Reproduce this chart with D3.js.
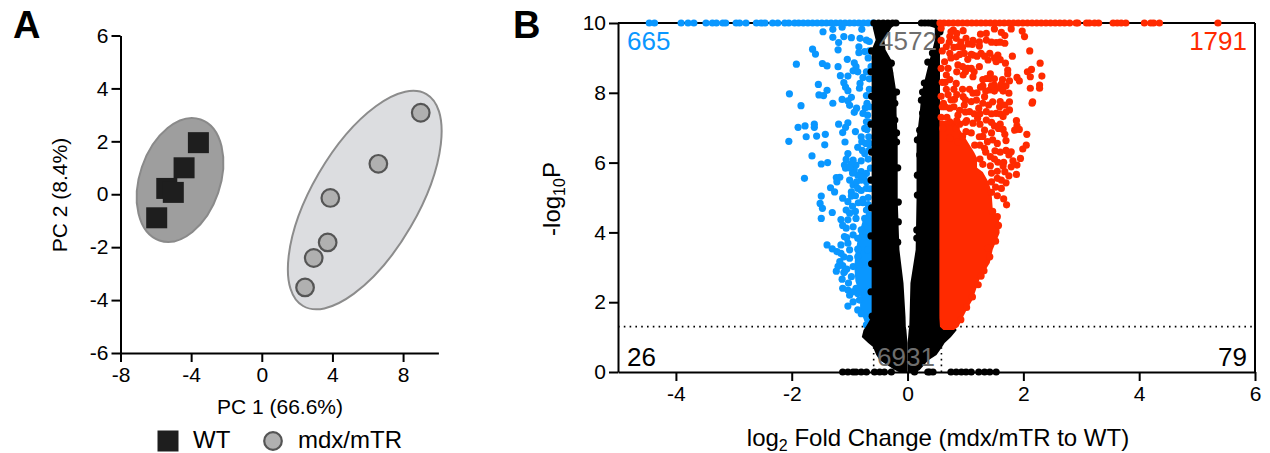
<!doctype html>
<html lang="en">
<head>
<meta charset="utf-8">
<title>PCA and volcano plot</title>
<script src="https://d3js.org/d3.v7.min.js"></script>
<style>
  html, body { margin: 0; padding: 0; background: #fff; }
  text { font-family: "Liberation Sans", Arial, sans-serif; fill: #000; }
  .axis path, .axis line { stroke: #000; stroke-width: 2; }
  .axis text { font-size: 21px; font-family: "Liberation Sans", Arial, sans-serif; fill: #000; }
</style>
</head>
<body>
<div id="chart"></div>
<script>
// panel A, PCA scores
var wtPoints = [[-3.59,1.95],[-4.40,1.00],[-5.38,0.22],[-5.01,0.07],[-5.95,-0.89]];
var mdxPoints = [[9.00,3.08],[6.60,1.15],[3.88,-0.14],[3.73,-1.82],[2.94,-2.41],[2.45,-3.52]];
// cx, cy, rx, ry in PC 1 units
var wtEllipse = [-4.63,0.54,3.62,2.28];
var mdxEllipse = [5.83,-0.22,6.94,3.01];
var pcaXTicks = [-8,-4,0,4,8];
var pcaYTicks = [-6,-4,-2,0,2,4,6];

// panel B, volcano
var volcanoXTicks = [-4,-2,0,2,4,6];
var volcanoYTicks = [0,2,4,6,8,10];
var cutoffP = 1.3;
var cutoffFC = 0.585;
var counts = {topLeft: "665", topMid: "4572", topRight: "1791", botLeft: "26", botMid: "6931", botRight: "79"};

// points capped at -log10P = 10
var blueCapped = [-4.46,-4.37,-3.91,-3.79,-3.69,-3.48,-3.37,-3.30,-3.19,-3.14,-2.96,-2.90,-2.79,-2.61,-2.53,-2.46,-2.33,-2.24,-2.12,-2.05,-1.95,-1.88,-1.8,-1.72,-1.64,-1.56,-1.48,-1.4,-1.32,-1.24,-1.16,-1.08,-1,-0.92,-0.84,-0.76,-0.68,-0.6];
var redCapped = [5.36,4.35,4.25,4.20,4.09,3.77,3.69,3.62,3.55,3.30,3.23,3.14,3.09,2.94,2.91,2.80,2.71,2.63,2.55,2.47,2.39,2.31,2.23,2.15,2.07,1.99,1.91,1.83,1.75,1.67,1.59,1.51,1.43,1.35,1.27,1.19,1.11,1.03,0.95,0.87,0.79,0.71,0.63,0.56];
var blackCapped = [-0.58,-0.5,-0.42,-0.34,-0.26,-0.2,0.24,0.3,0.36,0.42,0.48];
// points on the P = 1 line
var blackZero = [-1.12,-1.03,-0.94,-0.89,-0.80,-0.71,-0.57,-0.48,-0.40,-0.28,0.12,0.35,0.38,0.44,0.75,0.84,0.93,1.01,1.10,1.23,1.33,1.42,1.53];

var bluePoints = [[-1.46,9.75],[-1.29,9.82],[-1.13,9.88],[-1.29,9.59],[-1.10,9.61],[-0.97,9.58],[-1.19,9.44],[-0.79,9.82],[-0.82,9.56],[-0.71,9.51],[-0.66,9.47],[-0.84,9.32],[-1.64,9.25],[-1.59,9.11],[-1.20,9.23],[-0.84,9.15],[-0.74,9.18],[-1.04,8.96],[-1.92,8.82],[-1.47,8.84],[-1.39,8.77],[-1.20,8.75],[-0.92,8.86],[-0.89,8.75],[-0.94,8.63],[-0.86,8.60],[-1.03,8.48],[-1.16,8.49],[-0.71,8.60],[-0.77,8.44],[-0.63,8.75],[-1.10,8.29],[-1.07,8.16],[-1.03,8.06],[-0.82,8.27],[-0.83,8.13],[-1.54,8.24],[-1.39,8.07],[-1.53,7.94],[-1.45,7.92],[-2.04,7.97],[-0.71,7.92],[-1.13,7.81],[-0.97,7.87],[-1.03,7.77],[-1.29,7.70],[-1.00,7.64],[-1.84,7.63],[-0.88,7.56],[-0.92,7.44],[-0.73,7.57],[-0.77,7.41],[-0.69,7.36],[-0.71,7.17],[-1.19,7.10],[-1.03,7.14],[-1.07,7.01],[-1.77,7.05],[-1.89,7.01],[-1.61,7.10],[-1.61,7.01],[-1.12,6.86],[-0.90,6.89],[-0.74,6.98],[-1.42,6.81],[-1.75,6.74],[-1.57,6.76],[-0.80,6.74],[-0.67,6.74],[-2.05,6.61],[-1.08,6.59],[-0.79,6.60],[-1.43,6.51],[-0.86,6.44],[-0.66,6.55],[-1.65,6.19],[-0.74,6.26],[-1.03,6.26],[-0.66,6.36],[-1.06,6.09],[-1.49,5.96],[-1.38,6.00],[-1.09,5.93],[-1.07,5.84],[-0.94,6.07],[-0.89,5.93],[-0.92,5.79],[-0.80,5.74],[-0.71,5.69],[-0.64,5.84],[-0.86,5.64],[-1.78,5.55],[-1.23,5.57],[-1.17,5.58],[-1.22,5.45],[-1.00,5.50],[-0.80,5.50],[-0.71,5.45],[-0.63,5.50],[-0.94,5.36],[-1.33,5.28],[-1.26,5.16],[-0.97,5.16],[-0.86,5.26],[-0.71,5.26],[-1.49,5.04],[-1.12,4.98],[-0.97,5.04],[-0.77,4.95],[-1.51,4.83],[-1.47,4.69],[-1.49,4.40],[-1.30,4.57],[-1.06,4.64],[-1.03,4.88],[-0.77,4.85],[-0.71,4.64],[-1.15,4.37],[-1.03,4.36],[-0.89,4.40],[-0.74,4.40],[-0.66,4.31],[-1.06,4.12],[-0.94,4.16],[-0.80,4.07],[-0.94,3.93],[-0.71,3.97],[-1.09,3.88],[-0.86,3.83],[-1.39,3.64],[-1.30,3.53],[-1.15,3.64],[-1.03,3.69],[-1.15,3.40],[-1.00,3.50],[-0.86,3.52],[-0.69,3.50],[-1.00,3.26],[-0.86,3.30],[-1.17,3.16],[-1.23,2.89],[-1.20,3.03],[-1.09,2.87],[-0.94,3.02],[-0.83,3.07],[-1.13,2.66],[-0.97,2.73],[-1.12,2.40],[-1.03,2.35],[-0.89,2.40],[-0.86,2.25],[-1.03,1.89],[-0.94,2.01],[-0.83,2.06],[-0.86,1.78],[-0.80,1.67],[-0.69,1.54],[-0.71,1.35],
[-0.66,9.2],[-0.68,9.0],[-0.66,8.4],[-0.66,8.1],[-0.7,7.7],[-0.66,7.6],[-0.66,7.15],[-0.7,6.95],[-0.72,6.55],[-0.78,6.35],[-0.68,6.1],[-0.8,6.05],[-0.98,5.95],[-0.95,5.7],[-1.0,5.85],[-0.75,5.6],[-0.88,5.45],[-0.65,5.25],[-0.8,5.2],[-0.9,5.05],[-0.68,5.0],[-0.85,4.85],[-0.95,4.75],[-0.68,4.8],[-0.9,4.6],[-1.0,4.55],[-1.12,4.2],[-1.05,3.85],[-1.22,3.45],[-1.1,3.3],[-1.12,3.05],[-1.05,2.95],[-1.02,2.55],[-1.1,2.85],[-1.0,2.2],[-0.95,2.3]];

var redPoints = [[0.79,9.80],[0.96,9.78],[1.50,9.83],[1.79,9.83],[1.98,9.77],[2.02,9.61],[1.26,9.68],[1.36,9.70],[1.62,9.73],[1.68,9.64],[0.73,9.61],[0.84,9.56],[1.01,9.56],[1.12,9.39],[1.24,9.46],[1.36,9.51],[1.53,9.44],[1.68,9.42],[1.24,9.34],[0.67,9.32],[0.87,9.32],[2.11,9.20],[0.98,9.13],[1.13,9.08],[1.27,9.13],[1.42,9.13],[1.56,9.08],[0.73,9.13],[1.81,9.05],[0.84,9.03],[1.04,8.96],[1.39,8.94],[1.53,8.89],[1.69,8.85],[2.29,8.85],[0.64,8.89],[0.87,8.80],[1.24,8.75],[1.04,8.70],[1.73,8.65],[2.14,8.67],[2.07,8.60],[0.67,8.51],[0.96,8.51],[1.13,8.46],[1.43,8.54],[1.73,8.54],[2.32,8.48],[2.12,8.46],[1.89,8.44],[1.93,8.34],[1.36,8.41],[1.30,8.38],[1.64,8.38],[1.76,8.34],[0.73,8.38],[0.84,8.27],[1.50,8.22],[1.26,8.16],[1.07,8.10],[1.42,8.08],[1.59,8.13],[2.12,8.13],[2.28,8.22],[2.28,8.13],[0.67,8.10],[1.13,7.99],[1.75,7.99],[1.33,7.89],[0.96,7.89],[0.81,7.81],[1.19,7.79],[1.47,7.74],[1.76,7.74],[2.16,7.74],[2.15,7.70],[0.98,7.65],[1.59,7.60],[0.73,7.56],[1.23,7.56],[1.76,7.51],[1.07,7.46],[1.36,7.46],[1.53,7.41],[0.87,7.36],[1.65,7.32],[1.21,7.27],[1.36,7.22],[1.88,7.20],[0.73,7.17],[1.13,7.13],[1.89,7.05],[1.50,7.05],[1.85,6.93],[1.93,6.95],[0.61,6.98],[0.84,6.98],[1.01,6.89],[1.33,6.93],[1.57,6.98],[2.06,6.81],[1.68,6.81],[1.24,6.74],[0.73,6.70],[1.47,6.65],[1.70,6.63],[0.87,6.60],[1.16,6.50],[2.05,6.50],[1.33,6.41],[1.99,6.39],[1.51,6.34],[1.79,6.31],[1.75,6.22],[1.95,6.12],[1.43,6.17],[1.56,6.01],[1.66,6.01],[1.82,6.05],[1.89,5.93],[1.79,5.88],[1.43,5.91],[1.68,5.74],[1.88,5.66],[1.75,5.62],[1.45,5.45],[1.70,5.42],[1.62,5.26],[1.66,4.96],[1.71,4.79],[0.58,9.85],[0.58,9.5],[0.6,9.2],[0.58,8.7],[0.6,8.3],[0.58,7.9],[0.6,7.6],[0.58,7.3],[0.75,7.8],[0.62,7.7],[0.9,7.1],[1.02,7.2],
[0.75,9.75],[0.85,9.7],[0.72,9.45],[0.92,9.45],[0.8,9.3],[0.95,9.3],[1.05,9.4],[1.13,9.5],[1.45,9.45],[1.6,9.45],[0.75,9.0],[0.9,9.1],[1.1,9.1],[1.2,9.05],[1.33,9.05],[1.5,9.0],[1.6,8.95],[0.95,8.75],[1.1,8.7],[0.85,8.6],[1.0,8.6],[1.15,8.6],[0.7,8.7],[1.42,8.4],[1.5,8.4],[1.62,8.25],[1.7,8.2],[1.45,8.2],[1.3,8.2],[1.2,8.0],[1.35,8.05],[1.5,8.05],[1.65,8.05],[0.65,8.3],[0.8,8.1],[0.95,8.1],[0.7,7.95],[0.85,7.95],[1.0,7.8],[1.1,7.75],[1.3,7.7],[1.4,7.65],[1.6,7.75],[1.68,7.65],[0.65,7.6],[0.8,7.6],[0.9,7.5],[1.0,7.45],[1.15,7.4],[1.25,7.4],[1.45,7.4],[1.6,7.4],[1.7,7.45],[0.68,7.3],[0.85,7.2],[1.0,7.15],[1.25,7.1],[1.45,7.15],[1.6,7.1],[1.65,6.95],[1.45,6.85],[1.3,6.75],[1.1,6.85],[0.95,6.75],[1.38,6.6],[1.55,6.55],[1.25,6.5],[1.6,6.3],[1.7,6.35],[1.35,6.3],[1.25,6.1],[1.5,6.1],[1.65,5.9],[1.55,5.75],[1.45,5.7],[1.3,5.95],[1.55,5.55],[1.62,5.5],[1.52,5.3],[1.45,5.15],[1.55,5.05],
[1.57,4.2],[1.52,3.75],[1.42,3.3],[1.32,2.9],[1.22,2.5],[1.12,2.15],[1.02,1.85],[0.92,1.5],[1.47,4.6],[1.55,4.45],[1.39,3.55],[1.27,2.75]];

var blackEdgePoints = [[0.56,9.75],[0.43,9.14],[0.35,8.88],[0.50,8.51],[0.29,8.28],[0.26,8.02],[0.24,7.79],[0.35,7.59],[0.26,7.42],[0.21,6.93],[-0.19,8.02],[-0.28,8.85],[-0.22,7.7],[-0.22,7.22],[-0.19,6.85],[-0.31,8.57],[-0.19,6.59],[-0.17,5.85],[-0.16,4.87],[-0.16,4.30],[-0.17,3.72],[0.17,6.65],[0.21,6.22],[0.17,5.64],[0.17,5.07],[0.16,4.07],[0.16,3.84],[-0.61,1.6],[-0.63,2.3],[-0.62,3.1],[-0.63,3.9],[-0.62,4.7],[-0.63,5.5],[-0.62,6.3],[-0.63,7.1],[-0.62,7.9],[-0.63,8.6],[-0.62,9.2]];

// saturated parts where the dots merge into one solid patch
// [-log10P, left log2FC, right log2FC]
var redSolid = [[1.2,0.62,0.8],[1.3,0.56,0.88],[1.55,0.55,0.95],[1.78,0.55,1.02],[2.06,0.55,1.12],[2.64,0.55,1.24],[3.12,0.55,1.42],[3.5,0.55,1.47],[3.98,0.55,1.59],[4.36,0.55,1.58],[4.7,0.55,1.47],[5.16,0.55,1.45],[5.44,0.55,1.4],[5.73,0.55,1.3],[5.85,0.55,1.2],[6.13,0.55,1.2],[6.3,0.55,1.15],[6.7,0.55,1.0],[7.2,0.55,0.8]];
var blueSolid = [[1.35,-0.72,-0.6],[1.8,-0.82,-0.6],[2.2,-0.82,-0.6],[2.6,-0.9,-0.6],[3,-0.92,-0.6],[3.4,-0.9,-0.6],[3.9,-0.85,-0.6],[4.3,-0.78,-0.6],[4.6,-0.7,-0.6]];
// [-log10P, outer left, inner left, inner right, outer right]
var blackSolid = [[0,-0.15,0,0,0.15],[0.06,-0.22,0,0,0.21],[0.34,-0.48,0,0,0.36],[0.49,-0.54,0,0,0.5],[0.72,-0.6,0,0,0.6],[0.83,-0.68,0,0,0.64],[1,-0.79,-0.01,0.01,0.75],[1.2,-0.76,-0.02,0.02,0.85],[1.3,-0.72,-0.03,0.03,0.8],[1.58,-0.62,-0.035,0.035,0.56],[2.55,-0.62,-0.07,0.05,0.56],[3.5,-0.62,-0.14,0.14,0.56],[4.93,-0.62,-0.17,0.155,0.56],[6.65,-0.62,-0.17,0.155,0.56],[7.42,-0.62,-0.19,0.21,0.56],[7.99,-0.62,-0.19,0.24,0.56],[8.94,-0.62,-0.28,0.38,0.56],[9.23,-0.62,-0.38,0.43,0.56],[9.51,-0.55,-0.4,0.47,0.56],[9.86,-0.6,-0.28,0.47,0.58],[10,-0.6,-0.19,0.22,0.55]];

var BLUE = "#0a97ff", RED = "#ff2a00", GREY = "#6e6e6e";

var svg = d3.select("#chart").append("svg").attr("width", 1270).attr("height", 453).style("display", "block");

// panel A
var xA = d3.scaleLinear().domain([-8, 10]).range([120.5, 438.4]);
var yA = d3.scaleLinear().domain([-6, 6]).range([353, 35.5]);

svg.append("g").attr("class", "axis").attr("transform", "translate(0,353)")
  .call(d3.axisBottom(xA).tickValues(pcaXTicks).tickSize(9).tickSizeOuter(0).tickPadding(5).tickFormat(String));
svg.append("g").attr("class", "axis").attr("transform", "translate(120.5,0)")
  .call(d3.axisLeft(yA).tickValues(pcaYTicks).tickSize(9).tickSizeOuter(0).tickPadding(3).tickFormat(String));

function drawEllipse(e, angle, fill, stroke) {
  svg.append("ellipse")
    .attr("transform", "translate(" + xA(e[0]) + "," + yA(e[1]) + ") rotate(" + angle + ")")
    .attr("rx", xA(e[2]) - xA(0))
    .attr("ry", xA(e[3]) - xA(0))
    .attr("fill", fill).attr("stroke", stroke).attr("stroke-width", 2);
}
drawEllipse(wtEllipse, -71.2, "#9e9e9e", "#8a8a8a");
drawEllipse(mdxEllipse, -59.8, "#dcdde0", "#8c8c8c");

svg.selectAll("rect.wt").data(wtPoints).enter().append("rect").attr("class", "wt")
  .attr("x", function(d) { return xA(d[0]) - 10.5; })
  .attr("y", function(d) { return yA(d[1]) - 10.5; })
  .attr("width", 21).attr("height", 21)
  .attr("fill", "#1e1e1e");

svg.selectAll("circle.mdx").data(mdxPoints).enter().append("circle").attr("class", "mdx")
  .attr("cx", function(d) { return xA(d[0]); })
  .attr("cy", function(d) { return yA(d[1]); })
  .attr("r", 8.8)
  .attr("fill", "#b0b0b0").attr("stroke", "#555").attr("stroke-width", 2.2);

svg.append("text").attr("x", 13).attr("y", 38).style("font-size", "38px").style("font-weight", "bold").text("A");
svg.append("text").attr("x", 280).attr("y", 414).attr("text-anchor", "middle").style("font-size", "21px").text("PC 1 (66.6%)");
svg.append("text").attr("transform", "translate(67,195) rotate(-90)").attr("text-anchor", "middle").style("font-size", "21px").text("PC 2 (8.4%)");

// legend
svg.append("rect").attr("x", 157.5).attr("y", 430.5).attr("width", 21).attr("height", 21).attr("fill", "#1e1e1e");
svg.append("text").attr("x", 193).attr("y", 447.5).style("font-size", "24px").text("WT");
svg.append("circle").attr("cx", 273).attr("cy", 441).attr("r", 8.8).attr("fill", "#b0b0b0").attr("stroke", "#555").attr("stroke-width", 2.2);
svg.append("text").attr("x", 298).attr("y", 447.5).style("font-size", "24px").text("mdx/mTR");

// panel B
var xB = d3.scaleLinear().domain([-5, 6]).range([618, 1255]);
var yB = d3.scaleLinear().domain([0, 10]).range([372, 23]);

svg.append("g").attr("class", "axis").attr("transform", "translate(0,372)")
  .call(d3.axisBottom(xB).tickValues(volcanoXTicks).tickSize(9).tickSizeOuter(0).tickPadding(5).tickFormat(String));
svg.append("g").attr("class", "axis").attr("transform", "translate(618,0)")
  .call(d3.axisLeft(yB).tickValues(volcanoYTicks).tickSize(9).tickSizeOuter(0).tickPadding(3).tickFormat(String));
// top and right frame
svg.append("line").attr("x1", xB(-5)).attr("x2", xB(6)).attr("y1", yB(10)).attr("y2", yB(10)).attr("stroke", "#000").attr("stroke-width", 2);
svg.append("line").attr("x1", xB(6)).attr("x2", xB(6)).attr("y1", yB(10)).attr("y2", yB(0)).attr("stroke", "#000").attr("stroke-width", 2);

// cut-off lines
var dotted = "1.6 4.2";
svg.append("line").attr("x1", xB(-5)).attr("x2", xB(6)).attr("y1", yB(cutoffP)).attr("y2", yB(cutoffP)).attr("stroke", "#000").attr("stroke-width", 1.6).attr("stroke-dasharray", dotted);
[-cutoffFC, cutoffFC].forEach(function(v) {
  svg.append("line").attr("x1", xB(v)).attr("x2", xB(v)).attr("y1", yB(0)).attr("y2", yB(cutoffP)).attr("stroke", "#000").attr("stroke-width", 1.6).attr("stroke-dasharray", dotted);
});

var solidArea = d3.area().y(function(d) { return yB(d[0]); })
  .x0(function(d) { return xB(d[1]); })
  .x1(function(d) { return xB(d[2]); });

function drawDots(points, color) {
  svg.append("g").selectAll("circle").data(points).enter().append("circle")
    .attr("cx", function(d) { return xB(d[0]); })
    .attr("cy", function(d) { return yB(d[1]); })
    .attr("r", 3.6)
    .attr("fill", color);
}
function capped(xs, level) {
  return xs.map(function(v) { return [v, level]; });
}

// blue under black under red, same as the reference
svg.append("path").datum(blueSolid).attr("d", solidArea).attr("fill", BLUE);
drawDots(bluePoints, BLUE);
drawDots(capped(blueCapped, 10), BLUE);

svg.append("path").datum(blackSolid.map(function(d) { return [d[0], d[1], d[2]]; })).attr("d", solidArea).attr("fill", "#000");
svg.append("path").datum(blackSolid.map(function(d) { return [d[0], d[3], d[4]]; })).attr("d", solidArea).attr("fill", "#000");
drawDots(blackEdgePoints, "#000");
drawDots(capped(blackCapped, 10), "#000");
drawDots(capped(blackZero, 0), "#000");

svg.append("path").datum(redSolid).attr("d", solidArea).attr("fill", RED);
drawDots(redPoints, RED);
drawDots(capped(redCapped, 10), RED);

// quadrant counts
function countLabel(txt, x, y, anchor, color) {
  svg.append("text").attr("x", x).attr("y", y).attr("text-anchor", anchor)
    .style("font-size", "26px").style("fill", color).text(txt);
}
countLabel(counts.topLeft, 627, 50, "start", BLUE);
countLabel(counts.topMid, 908, 50, "middle", GREY);
countLabel(counts.topRight, 1247, 50, "end", RED);
countLabel(counts.botLeft, 627, 366, "start", "#000");
countLabel(counts.botMid, 906, 366, "middle", GREY);
countLabel(counts.botRight, 1247, 366, "end", "#000");

svg.append("text").attr("x", 513).attr("y", 38).style("font-size", "38px").style("font-weight", "bold").text("B");

var xLabel = svg.append("text").attr("x", 938).attr("y", 446).attr("text-anchor", "middle").style("font-size", "24px");
xLabel.append("tspan").text("log");
xLabel.append("tspan").attr("dy", 5).style("font-size", "16px").text("2");
xLabel.append("tspan").attr("dy", -5).text(" Fold Change (mdx/mTR to WT)");

var yLabel = svg.append("text").attr("transform", "translate(560,199) rotate(-90)").attr("text-anchor", "middle").style("font-size", "24px");
yLabel.append("tspan").text("-log");
yLabel.append("tspan").attr("dy", 5).style("font-size", "16px").text("10");
yLabel.append("tspan").attr("dy", -5).text("P");
</script>
</body>
</html>
